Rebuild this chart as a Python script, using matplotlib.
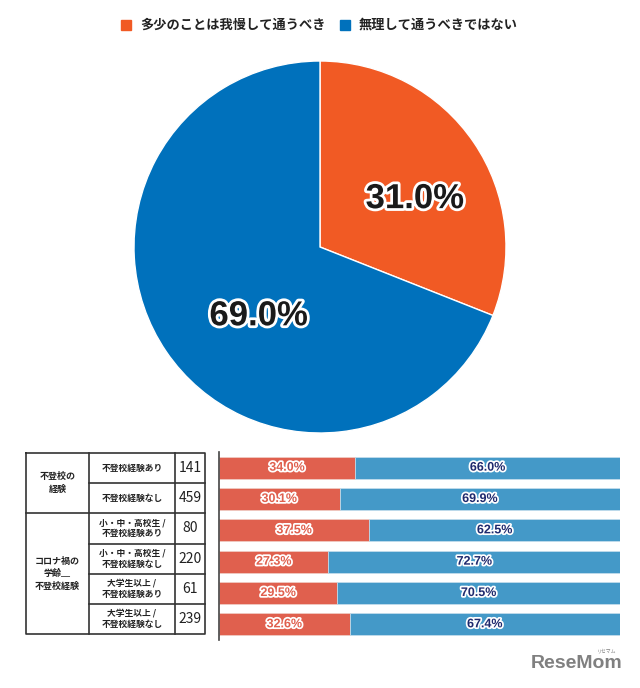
import matplotlib

matplotlib.use("Agg")
import matplotlib.pyplot as plt
import matplotlib.patheffects as pe

plt.rcParams["font.family"] = ["Noto Sans CJK JP", "DejaVu Sans"]

# overall answer (pie)
pie_labels = ["多少のことは我慢して通うべき", "無理して通うべきではない"]
pie_values = [31.0, 69.0]
pie_colors = ["#F15A24", "#0071BC"]

# breakdown table + stacked bars
group_labels = ["不登校の\n経験", "コロナ禍の\n学齢＿\n不登校経験"]
group_sizes = [2, 4]
row_labels = [
    "不登校経験あり",
    "不登校経験なし",
    "小・中・高校生 /\n不登校経験あり",
    "小・中・高校生 /\n不登校経験なし",
    "大学生以上 /\n不登校経験あり",
    "大学生以上 /\n不登校経験なし",
]
row_n = [141, 459, 80, 220, 61, 239]
endure = [34.0, 30.1, 37.5, 27.3, 29.5, 32.6]
no_force = [66.0, 69.9, 62.5, 72.7, 70.5, 67.4]
bar_colors = ["#E0604E", "#4499C8"]

W, H = 640, 688
fig = plt.figure(figsize=(W / 100, H / 100), dpi=100)


def px_axes(x0, y0, x1, y1):
    # axes from pixel box (top-left origin)
    return fig.add_axes([x0 / W, 1 - y1 / H, (x1 - x0) / W, (y1 - y0) / H])


# ---- legend ----
leg_ax = px_axes(0, 0, W, 50)
leg_ax.set_xlim(0, W)
leg_ax.set_ylim(50, 0)
leg_ax.axis("off")
for x, lab, col in zip([126, 345], pie_labels, pie_colors):
    leg_ax.add_patch(plt.Rectangle((x - 5, 20), 10, 10, color=col))
    leg_ax.text(x + 14, 25, lab, fontsize=9.5, fontweight="bold", va="center", ha="left", color="#222222")

# ---- pie ----
cx, cy, r = 320, 247, 186
pie_ax = px_axes(cx - r, cy - r, cx + r, cy + r)
wedges, _ = pie_ax.pie(
    pie_values,
    colors=pie_colors,
    startangle=90,
    counterclock=False,
    radius=1.0,
    wedgeprops=dict(linewidth=1, edgecolor="white"),
)
pie_ax.set_xlim(-1, 1)
pie_ax.set_ylim(-1, 1)
label_pos = [(0.51, 0.26), (-0.33, -0.37)]
for (lx, ly), v in zip(label_pos, pie_values):
    pie_ax.text(
        lx, ly, f"{v:.1f}%", fontsize=25, fontweight="bold", family="Liberation Sans",
        ha="center", va="center", color="#1a1a1a",
        path_effects=[pe.withStroke(linewidth=4, foreground="white")],
    )

# ---- table ----
t_left, t_top, t_right, t_bottom = 26, 453, 205, 634
col1, col2 = 89, 175
n_rows = len(row_labels)
tab_ax = px_axes(0, t_top - 5, 215, t_bottom + 5)
tab_ax.set_xlim(0, 215)
tab_ax.set_ylim(t_bottom + 5, t_top - 5)
tab_ax.axis("off")
rh = (t_bottom - t_top) / n_rows
lc = "#333333"
tab_ax.plot([t_left, t_right, t_right, t_left, t_left], [t_top, t_top, t_bottom, t_bottom, t_top], color=lc, lw=1.2)
tab_ax.plot([col1, col1], [t_top, t_bottom], color=lc, lw=1.2)
tab_ax.plot([col2, col2], [t_top, t_bottom], color=lc, lw=1.2)
start = 0
for gi, (g, size) in enumerate(zip(group_labels, group_sizes)):
    y0 = t_top + start * rh
    y1 = t_top + (start + size) * rh
    if gi > 0:
        tab_ax.plot([t_left, t_right], [y0, y0], color=lc, lw=1.2)
    tab_ax.text((t_left + col1) / 2, (y0 + y1) / 2, g, fontsize=6.5, fontweight="bold",
                ha="center", va="center", linespacing=1.5, color="#222222")
    for k in range(start + 1, start + size):
        yk = t_top + k * rh
        tab_ax.plot([col1, t_right], [yk, yk], color=lc, lw=1.2)
    start += size
for i, (lab, n) in enumerate(zip(row_labels, row_n)):
    yc = t_top + (i + 0.5) * rh
    tab_ax.text((col1 + col2) / 2, yc, lab, fontsize=6.3, fontweight="bold",
                ha="center", va="center", linespacing=1.3, color="#222222")
    tab_ax.text((col2 + t_right) / 2, yc, str(n), fontsize=10,
                ha="center", va="center", color="#222222")

# ---- stacked bars ----
bar_ax = px_axes(219, 452, 620, 640)
ys = list(range(n_rows))
bar_ax.barh(ys, endure, height=0.7, color=bar_colors[0], edgecolor="#f0d0c8", linewidth=0.5)
bar_ax.barh(ys, no_force, left=endure, height=0.7, color=bar_colors[1], edgecolor="#c8e0ee", linewidth=0.5)
bar_ax.set_xlim(0, 100)
bar_ax.set_ylim(n_rows - 0.5, -0.5)
for s in ["top", "right", "bottom"]:
    bar_ax.spines[s].set_visible(False)
bar_ax.spines["left"].set_color("#444444")
bar_ax.spines["left"].set_linewidth(1.2)
bar_ax.set_xticks([])
bar_ax.set_yticks([])
for y, a, b in zip(ys, endure, no_force):
    bar_ax.text(a / 2, y, f"{a:.1f}%", fontsize=9, fontweight="bold", family="Liberation Sans",
                ha="center", va="center", color="#E0604E",
                path_effects=[pe.withStroke(linewidth=2.5, foreground="white")])
    bar_ax.text(a + b / 2, y, f"{b:.1f}%", fontsize=9, fontweight="bold", family="Liberation Sans",
                ha="center", va="center", color="#1F2A6E",
                path_effects=[pe.withStroke(linewidth=2.5, foreground="white")])

# ---- logo ----
fig.text(577 / W, 1 - 664 / H, "ReseMom", fontsize=14, fontweight="bold", family="Liberation Sans",
         color="#808080", ha="center", va="center")
fig.text(607 / W, 1 - 651 / H, "リセマム", fontsize=3.5, color="#808080", ha="center", va="center")

fig.savefig("out.png", dpi=100, facecolor="white")
